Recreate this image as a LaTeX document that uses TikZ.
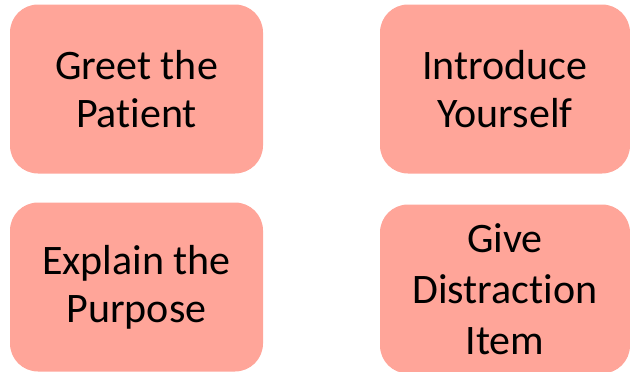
\documentclass[tikz,border=0pt]{standalone}
\usepackage{fontspec}
\setmainfont[Ligatures=NoCommon]{Carlito}
\definecolor{boxfill}{RGB}{255,165,153}
\begin{document}
\begin{tikzpicture}[x=1pt,y=-1pt,
  card/.style={fill=boxfill, draw=none, rounded corners=28pt, minimum width=253pt, minimum height=169pt,
    align=center, inner sep=0pt, font=\fontsize{42}{48}\selectfont, text=black}]
\useasboundingbox (0,0) rectangle (630,372);
\node[card] (greet) at (136.5,89) {Greet the\\Patient};
\node[card, minimum width=250pt] (intro) at (505,89) {Introduce\\Yourself};
\node[card] (explain) at (136.5,287) {Explain the\\Purpose};
\node[card, minimum width=250pt, font=\fontsize{42}{51}\selectfont] (give) at (505,289) {Give\\Distraction\\Item};
\end{tikzpicture}
\end{document}
